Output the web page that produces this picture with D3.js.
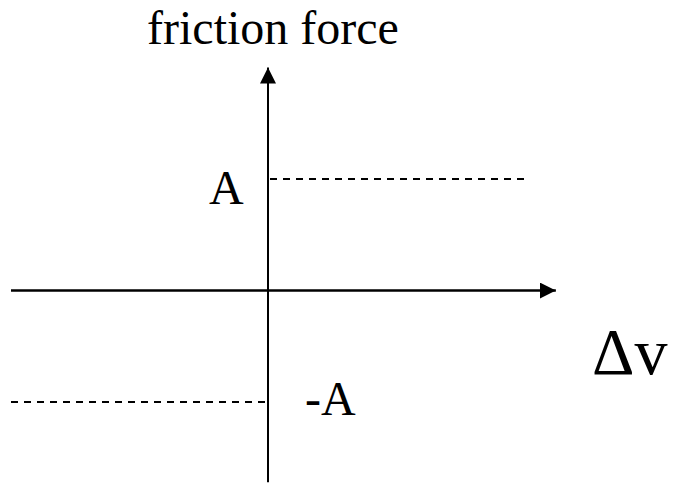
<!DOCTYPE html>
<html>
<head>
<meta charset="utf-8">
<script src="https://cdn.jsdelivr.net/npm/d3@7"></script>
<style>
  html, body { margin: 0; padding: 0; background: #ffffff; }
  svg text { font-family: "Liberation Serif", "Times New Roman", serif; fill: #000; }
</style>
</head>
<body>
<script>
// Coulomb friction: force is +A for positive slip, -A for negative slip.
const levelLabels = ['A', '-A'];
const levelValues = [1, -1];
const levelDvFrom = [0, -1];
const levelDvTo = [1, 0];

// Axis extents (in data units).
const dvExtent = [-1, 1.12];
const forceExtent = [-1.72, 2.0];

const size = {width: 676, height: 483};

const x = d3.scaleLinear().domain([-1, 1]).range([11, 525]);
const y = d3.scaleLinear().domain([-1, 1]).range([402, 179]);

const svg = d3.select('body')
  .append('svg')
  .attr('width', size.width)
  .attr('height', size.height);

svg.append('defs').append('marker')
  .attr('id', 'arrow')
  .attr('viewBox', '0 0 16 16')
  .attr('refX', 16)
  .attr('refY', 8)
  .attr('markerWidth', 16)
  .attr('markerHeight', 16)
  .attr('markerUnits', 'userSpaceOnUse')
  .attr('orient', 'auto')
  .append('path')
  .attr('d', 'M0,0 L16,8 L0,16 Z')
  .attr('fill', '#000');

// Dashed levels.
const levels = levelValues.map((v, i) => ({value: v, label: levelLabels[i], from: levelDvFrom[i], to: levelDvTo[i]}));

svg.selectAll('line.level')
  .data(levels)
  .enter()
  .append('line')
  .attr('class', 'level')
  .attr('x1', (d) => x(d.from) + (d.from === 0 ? 2 : 0))
  .attr('x2', (d) => x(d.to) - (d.to === 0 ? 2 : 0))
  .attr('y1', (d) => y(d.value))
  .attr('y2', (d) => y(d.value))
  .attr('stroke', '#000')
  .attr('stroke-width', 2)
  .attr('stroke-dasharray', '7,6');

// Axes.
svg.append('line')
  .attr('x1', x(dvExtent[0]))
  .attr('x2', x(dvExtent[1]))
  .attr('y1', y(0))
  .attr('y2', y(0))
  .attr('stroke', '#000')
  .attr('stroke-width', 2.5)
  .attr('marker-end', 'url(#arrow)');

svg.append('line')
  .attr('x1', x(0))
  .attr('x2', x(0))
  .attr('y1', y(forceExtent[0]))
  .attr('y2', y(forceExtent[1]))
  .attr('stroke', '#000')
  .attr('stroke-width', 2)
  .attr('marker-end', 'url(#arrow)');

// Level labels.
svg.append('text')
  .attr('x', x(0) - 59)
  .attr('y', y(levelValues[0]) + 25)
  .attr('font-size', 48)
  .text(levelLabels[0]);

svg.append('text')
  .attr('x', x(0) + 37)
  .attr('y', y(levelValues[1]) + 13)
  .attr('font-size', 48)
  .text(levelLabels[1]);

// Axis titles.
svg.append('text')
  .attr('x', x(0) + 5)
  .attr('y', 44)
  .attr('text-anchor', 'middle')
  .attr('font-size', 48)
  .text('friction force');

svg.append('text')
  .attr('x', 592)
  .attr('y', 374)
  .attr('font-size', 66)
  .text('\u0394v');
</script>
</body>
</html>
